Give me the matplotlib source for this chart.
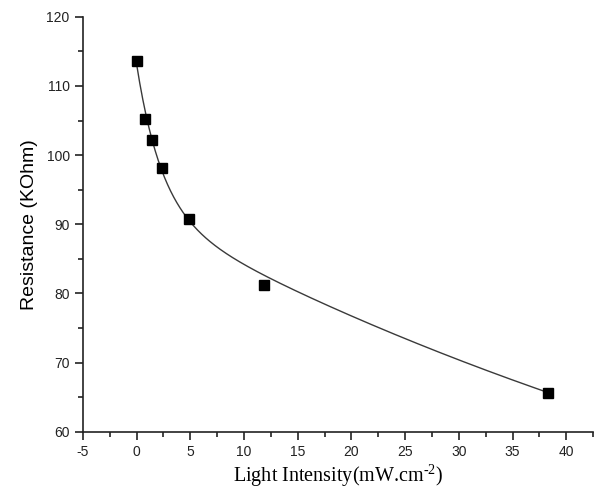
import numpy as np
import matplotlib
matplotlib.use("Agg")
import matplotlib.pyplot as plt
from matplotlib.ticker import MultipleLocator

intensity = [0.0, 0.8, 1.4, 2.4, 4.9, 11.9, 38.3]          # mW/cm^2
resistance = [113.6, 105.2, 102.2, 98.1, 90.7, 81.2, 65.6]  # kOhm

# points traced along the fitted curve of the reference
curve_x = [0.0, 0.86, 1.41, 2.40, 4.98, 5.91, 7.77, 10.25, 11.95, 14.28,
           17.38, 20.48, 23.58, 26.68, 29.16, 31.95, 35.67, 38.3]
curve_y = [113.6, 105.1, 102.2, 98.1, 90.65, 88.96, 86.06, 83.89, 82.44, 81.0,
           78.59, 76.17, 74.25, 72.56, 71.11, 69.41, 67.01, 65.6]


def fit_expdec2(x, y):
    """Two-term exponential decay, y0 + A1*exp(-x/t1) + A2*exp(-x/t2).

    Grid search on the time constants, linear least squares for the rest.
    """
    x = np.asarray(x)
    y = np.asarray(y)
    best = None
    for t1 in np.geomspace(0.2, 10, 90):
        for t2 in np.geomspace(3, 1000, 120):
            if t2 <= t1:
                continue
            A = np.column_stack([np.ones_like(x), np.exp(-x / t1), np.exp(-x / t2)])
            coef, *_ = np.linalg.lstsq(A, y, rcond=None)
            res = np.sum((A @ coef - y) ** 2)
            if best is None or res < best[0]:
                best = (res, t1, t2, coef)
    _, t1, t2, coef = best
    return lambda xx: coef[0] + coef[1] * np.exp(-xx / t1) + coef[2] * np.exp(-xx / t2)


model = fit_expdec2(curve_x, curve_y)
xs = np.linspace(min(intensity), max(intensity), 400)

plt.rcParams["font.family"] = ["Liberation Sans", "DejaVu Sans"]
plt.rcParams["axes.unicode_minus"] = False
plt.rcParams["mathtext.fontset"] = "custom"
plt.rcParams["mathtext.rm"] = "Liberation Serif"

fig = plt.figure(figsize=(6.14, 4.93), dpi=100)
ax = fig.add_axes([0.135, 0.124, 0.831, 0.842])

ax.plot(xs, model(xs), color="#3a3a3a", lw=1.0, zorder=2)
ax.plot(intensity, resistance, ls="none", marker="s", ms=7, color="black", zorder=3)

ax.set_xlim(-5, 42.5)
ax.set_ylim(60, 120)
ax.xaxis.set_major_locator(MultipleLocator(5))
ax.xaxis.set_minor_locator(MultipleLocator(2.5))
ax.yaxis.set_major_locator(MultipleLocator(10))
ax.yaxis.set_minor_locator(MultipleLocator(5))

for side in ("top", "right"):
    ax.spines[side].set_visible(False)
for side in ("left", "bottom"):
    ax.spines[side].set_linewidth(1.2)
    ax.spines[side].set_color("#222222")

ax.tick_params(which="major", direction="out", length=6, width=1.2, labelsize=10, colors="#222222")
ax.tick_params(which="minor", direction="out", length=3.5, width=1.2, colors="#222222")

ax.set_ylabel("Resistance (KOhm)", fontsize=14, labelpad=6)
ax.set_xlabel(r"Light Intensity(mW.cm$^{\text{-2}}$)", fontsize=14.5,
              family=["Liberation Serif", "DejaVu Serif"], labelpad=2)

fig.savefig("out.png", dpi=100)
